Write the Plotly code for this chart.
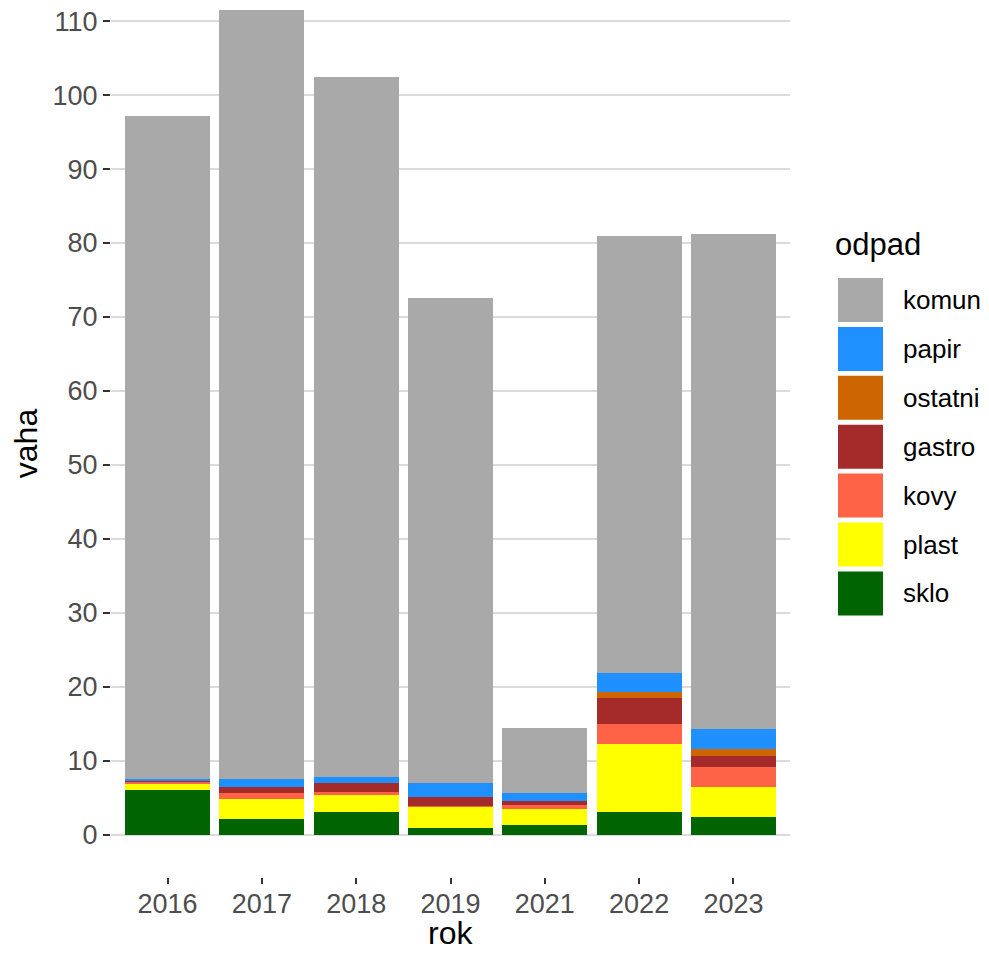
import plotly.graph_objects as go

years = ["2016", "2017", "2018", "2019", "2021", "2022", "2023"]
sklo = [6.1, 2.1, 3.1, 0.9, 1.35, 3.1, 2.45]
plast = [0.8, 2.7, 2.35, 2.9, 2.15, 9.2, 3.95]
kovy = [0.3, 0.8, 0.3, 0.15, 0.6, 2.75, 2.75]
gastro = [0.05, 0.8, 1.2, 1.15, 0.45, 3.45, 1.55]
ostatni = [0.0, 0.0, 0.0, 0.0, 0.0, 0.8, 0.9]
papir = [0.3, 1.1, 0.85, 1.95, 1.05, 2.6, 2.65]
komun = [89.65, 106.5, 94.6, 65.55, 8.8, 59.0, 66.95]

series_names = ["sklo", "plast", "kovy", "gastro", "ostatni", "papir", "komun"]
series_values = [sklo, plast, kovy, gastro, ostatni, papir, komun]
colors = {
    "komun": "#A9A9A9",
    "papir": "#1E90FF",
    "ostatni": "#CD6600",
    "gastro": "#A52A2A",
    "kovy": "#FF6347",
    "plast": "#FFFF00",
    "sklo": "#006400",
}
legend_order = ["komun", "papir", "ostatni", "gastro", "kovy", "plast", "sklo"]

# page body has an 8px margin; figure is sized to fit the window exactly
OFF = 8
W, H = 989 - 2 * OFF, 953 - 2 * OFF
L, R, T, B = 111, 790, 10, 877  # panel edges in window pixels

fig = go.Figure()
for name, vals in zip(series_names, series_values):
    fig.add_trace(go.Bar(x=years, y=vals, name=name, marker_color=colors[name],
                         marker_line_width=0, showlegend=False))

FONT = "Liberation Sans, Arial, sans-serif"

def px_x(p):
    return (p - L) / (R - L)

def px_y(p):
    return (B - p) / (B - T)

shapes = []
annotations = []
for i, name in enumerate(legend_order):
    y0 = 278 + i * 48.9
    shapes.append(dict(type="rect", xref="paper", yref="paper",
                       x0=px_x(838), x1=px_x(883), y0=px_y(y0 + 44), y1=px_y(y0),
                       fillcolor=colors[name], line=dict(width=0)))
    annotations.append(dict(text=name, xref="paper", yref="paper", x=px_x(901), y=px_y(y0 + 22),
                            xanchor="left", yanchor="middle", showarrow=False,
                            font=dict(family=FONT, size=26, color="black")))
annotations.append(dict(text="odpad", xref="paper", yref="paper", x=px_x(833), y=px_y(245),
                        xanchor="left", yanchor="middle", showarrow=False,
                        font=dict(family=FONT, size=31, color="black")))
# x axis title
annotations.append(dict(text="rok", xref="paper", yref="paper", x=0.5, y=px_y(933),
                        xanchor="center", yanchor="middle", showarrow=False,
                        font=dict(family=FONT, size=32, color="black")))

fig.update_layout(
    barmode="stack",
    bargap=0.1,
    width=W, height=H,
    margin=dict(l=L - OFF, r=W - (R - OFF), t=T - OFF, b=H - (B - OFF)),
    paper_bgcolor="white",
    plot_bgcolor="white",
    font=dict(family=FONT, size=27, color="#4D4D4D"),
    shapes=shapes,
    annotations=annotations,
    xaxis=dict(
        type="category",
        range=[-0.6, 6.6],
        showgrid=False,
        automargin=False,
        ticks="outside", ticklen=6, tickwidth=1.5, tickcolor="#333333",
        ticklabelstandoff=-3,
        tickfont=dict(family=FONT, size=27, color="#4D4D4D"),
        zeroline=False,
    ),
    yaxis=dict(
        range=[-5.7, 111.5],
        tickvals=[0, 10, 20, 30, 40, 50, 60, 70, 80, 90, 100, 110],
        showgrid=True, gridcolor="#DADADA", gridwidth=1.5,
        automargin=False,
        ticklabeloverflow="allow",
        ticks="outside", ticklen=7, tickwidth=1.5, tickcolor="#333333",
        tickfont=dict(family=FONT, size=27, color="#4D4D4D"),
        title=dict(text="vaha", font=dict(family=FONT, size=32, color="black"), standoff=9),
        zeroline=False,
    ),
)

fig.write_html("out.html")
